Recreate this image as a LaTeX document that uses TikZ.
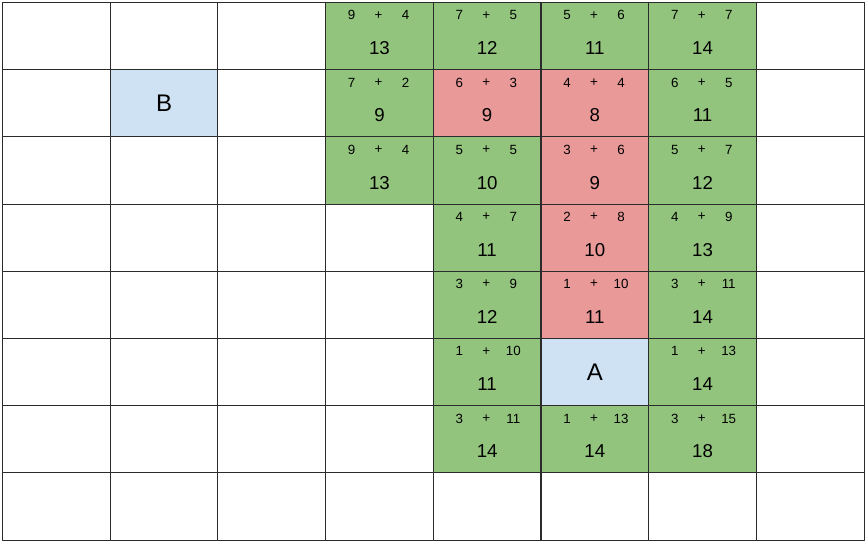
\documentclass[tikz,border=0pt]{standalone}
\usepackage{fontspec}
\setmainfont{Liberation Sans}
\definecolor{sumgreen}{HTML}{93C47D}
\definecolor{sumred}{HTML}{EA9999}
\definecolor{endblue}{HTML}{CFE2F3}
\definecolor{gridline}{HTML}{2B2B2B}
\begin{document}
\begin{tikzpicture}[x=0.75pt,y=-0.75pt,line join=round]
	\tikzstyle{cell}=[draw=gridline,line width=0.8pt,anchor=north west,minimum width=80.775pt,minimum height=50.4pt,inner sep=0pt,outer sep=0pt]
	\tikzstyle{cost}=[font=\fontsize{10}{12}\selectfont,inner sep=0pt]
	\tikzstyle{total}=[font=\fontsize{14}{16}\selectfont,inner sep=0pt]
	\tikzstyle{endpt}=[font=\fontsize{18}{21}\selectfont]
	\useasboundingbox (0,0) rectangle (866,541);
	\foreach \r in {0,...,7} {\foreach \k in {0,...,7} {\node[cell] (g\r\k) at ({2.5+107.7*\k},{2.5+67.2*\r}) {};}}
	\foreach \r/\k/\fillc/\g/\h/\t in {0/3/sumgreen/9/4/13, 0/4/sumgreen/7/5/12, 0/5/sumgreen/5/6/11, 0/6/sumgreen/7/7/14,
		1/3/sumgreen/7/2/9, 1/4/sumred/6/3/9, 1/5/sumred/4/4/8, 1/6/sumgreen/6/5/11,
		2/3/sumgreen/9/4/13, 2/4/sumgreen/5/5/10, 2/5/sumred/3/6/9, 2/6/sumgreen/5/7/12,
		3/4/sumgreen/4/7/11, 3/5/sumred/2/8/10, 3/6/sumgreen/4/9/13,
		4/4/sumgreen/3/9/12, 4/5/sumred/1/10/11, 4/6/sumgreen/3/11/14,
		5/4/sumgreen/1/10/11, 5/6/sumgreen/1/13/14,
		6/4/sumgreen/3/11/14, 6/5/sumgreen/1/13/14, 6/6/sumgreen/3/15/18} {
		\node[cell,fill=\fillc] (s\r\k) at (g\r\k.north west) {};
		\node[cost] (s\r\k-g) at ([shift={(26,12.8)}]s\r\k.north west) {\g};
		\node[cost] (s\r\k-p) at ([shift={(53,12.8)}]s\r\k.north west) {+};
		\node[cost] (s\r\k-h) at ([shift={(80,12.8)}]s\r\k.north west) {\h};
		\node[total] (s\r\k-f) at ([shift={(53.85,45.8)}]s\r\k.north west) {\t};
	}
	\node[cell,fill=endblue,endpt] (B) at (g11.north west) {B};
	\node[cell,fill=endblue,endpt] (A) at (g55.north west) {A};
\end{tikzpicture}
\end{document}
